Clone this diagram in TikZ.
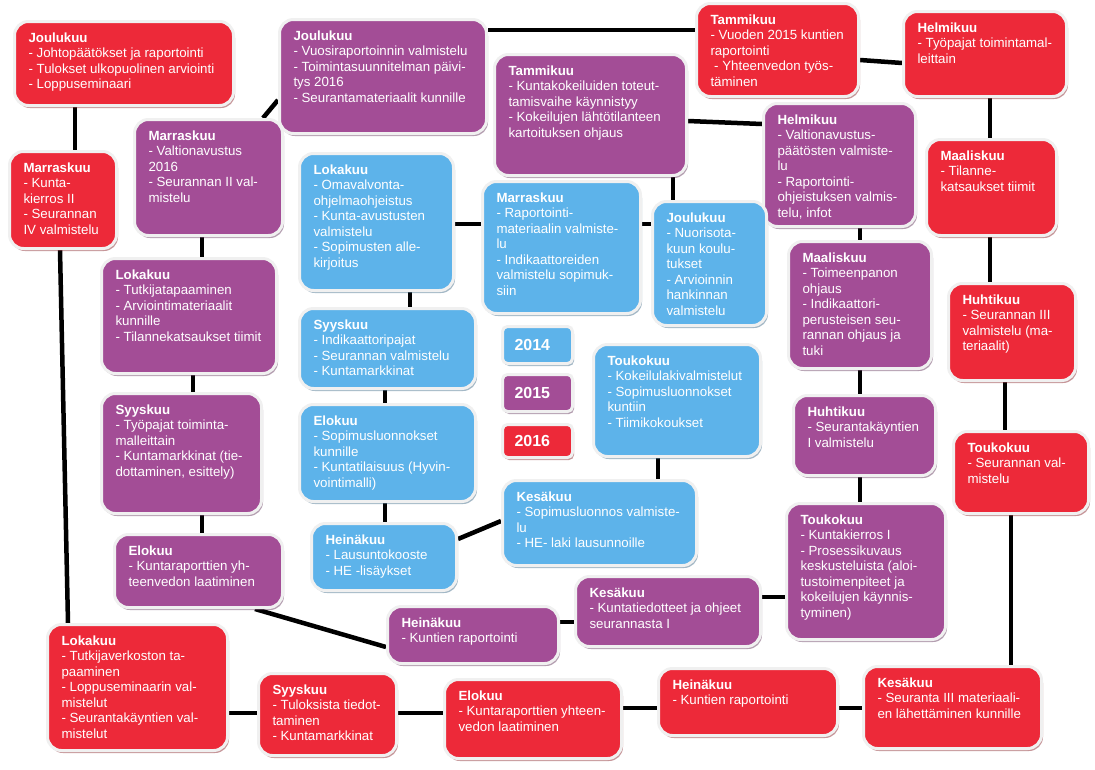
\documentclass[tikz,border=0pt]{standalone}
\usepackage{fontspec}
\setmainfont{Liberation Sans}
\usetikzlibrary{shadows,backgrounds}
\definecolor{cred}{RGB}{237,41,57}
\definecolor{cpurple}{RGB}{163,77,150}
\definecolor{cblue}{RGB}{93,179,234}
\definecolor{cedge}{RGB}{240,240,240}
% box text: outer width, outer height, lines
\newcommand{\mtxt}[3]{\parbox[t][\dimexpr#2pt-23pt\relax][t]{\dimexpr#1pt-31pt\relax}{\begin{tabular}[t]{@{}l@{}}#3\end{tabular}}}

\begin{document}
\begin{tikzpicture}[x=1pt,y=-1pt,
	mbox/.style={fill=#1, draw=cedge, line width=3pt, rounded corners=14pt, anchor=north west,
		inner xsep=14pt, inner ysep=10pt, text=white, font=\fontsize{13.3}{15.5}\selectfont,
		drop shadow={shadow xshift=1.5pt, shadow yshift=-2.5pt, fill=#1!55!black, opacity=0.45}},
	ybox/.style={mbox=#1, rounded corners=5pt, inner xsep=12pt, text width=46pt, align=left,
		minimum height=37pt, font=\bfseries\fontsize{16}{18}\selectfont},
	link/.style={line width=4.5pt}]
	\useasboundingbox (0,0) rectangle (1095,769);

	% 2016
	\node[mbox=cred] (rJou) at (13,20) {\mtxt{222}{87}{\textbf{Joulukuu}\\- Johtopäätökset ja raportointi\\- Tulokset ulkopuolinen arviointi\\- Loppuseminaari}};
	\node[mbox=cred] (rMar) at (8,150) {\mtxt{110}{100}{\textbf{Marraskuu}\\- Kunta-\\kierros II\\- Seurannan\\IV valmistelu}};
	\node[mbox=cred] (rLok) at (46,623) {\mtxt{183}{129}{\textbf{Lokakuu}\\- Tutkijaverkoston ta-\\paaminen\\- Loppuseminaarin val-\\mistelut\\- Seurantakäyntien val-\\mistelut}};
	\node[mbox=cred] (rSyy) at (257,672) {\mtxt{141}{85}{\textbf{Syyskuu}\\- Tuloksista tiedot-\\taminen\\- Kuntamarkkinat}};
	\node[mbox=cred] (rElo) at (443,678) {\mtxt{180}{82}{\textbf{Elokuu}\\- Kuntaraporttien yhteen-\\vedon laatiminen}};
	\node[mbox=cred] (rHei) at (657,667) {\mtxt{182}{70}{\textbf{Heinäkuu}\\- Kuntien raportointi}};
	\node[mbox=cred] (rKes) at (862,665) {\mtxt{181}{85}{\textbf{Kesäkuu}\\- Seuranta III materiaali-\\en lähettäminen kunnille}};
	\node[mbox=cred] (rTou) at (952,430) {\mtxt{138}{85}{\textbf{Toukokuu}\\- Seurannan val-\\mistelu}};
	\node[mbox=cred] (rHuh) at (947,282) {\mtxt{130}{100}{\textbf{Huhtikuu}\\- Seurannan III\\valmistelu (ma-\\teriaalit)}};
	\node[mbox=cred] (rMaa) at (925,138) {\mtxt{133}{99}{\textbf{Maaliskuu}\\- Tilanne-\\katsaukset tiimit}};
	\node[mbox=cred] (rHel) at (902,10) {\mtxt{166}{88}{\textbf{Helmikuu}\\- Työpajat toimintamal-\\leittain}};
	\node[mbox=cred] (rTam) at (695,2) {\mtxt{165}{96}{\textbf{Tammikuu}\\- Vuoden 2015 kuntien\\raportointi\\\ - Yhteenvedon työs-\\täminen}};

	% 2015
	\node[mbox=cpurple] (pJou) at (278,18) {\mtxt{210}{117}{\textbf{Joulukuu}\\- Vuosiraportoinnin valmistelu\\- Toimintasuunnitelman päivi-\\tys 2016\\- Seurantamateriaalit kunnille}};
	\node[mbox=cpurple] (pMar) at (133,118) {\mtxt{151}{119}{\textbf{Marraskuu}\\- Valtionavustus\\2016\\- Seurannan II val-\\mistelu}};
	\node[mbox=cpurple] (pLok) at (100,257) {\mtxt{178}{118}{\textbf{Lokakuu}\\- Tutkijatapaaminen\\- Arviointimateriaalit\\kunnille\\- Tilannekatsaukset tiimit}};
	\node[mbox=cpurple] (pSyy) at (100,392) {\mtxt{163}{123}{\textbf{Syyskuu}\\- Työpajat toiminta-\\malleittain\\- Kuntamarkkinat (tie-\\dottaminen, esittely)}};
	\node[mbox=cpurple] (pElo) at (113,533) {\mtxt{171}{76}{\textbf{Elokuu}\\- Kuntaraporttien yh-\\teenvedon laatiminen}};
	\node[mbox=cpurple] (pHei) at (386,605) {\mtxt{174}{60}{\textbf{Heinäkuu}\\- Kuntien raportointi}};
	\node[mbox=cpurple] (pKes) at (574,575) {\mtxt{188}{73}{\textbf{Kesäkuu}\\- Kuntatiedotteet ja ohjeet\\seurannasta I}};
	\node[mbox=cpurple] (pTou) at (785,502) {\mtxt{162}{139}{\textbf{Toukokuu}\\- Kuntakierros I\\- Prosessikuvaus\\keskusteluista (aloi-\\tustoimenpiteet ja\\kokeilujen käynnis-\\tyminen)}};
	\node[mbox=cpurple] (pHuh) at (792,394) {\mtxt{145}{83}{\textbf{Huhtikuu}\\- Seurantakäyntien\\I valmistelu}};
	\node[mbox=cpurple] (pMaa) at (787,240) {\mtxt{146}{130}{\textbf{Maaliskuu}\\- Toimeenpanon\\ohjaus\\- Indikaattori-\\perusteisen seu-\\rannan ohjaus ja\\tuki}};
	\node[mbox=cpurple] (pHel) at (762,102) {\mtxt{155}{126}{\textbf{Helmikuu}\\- Valtionavustus-\\päätösten valmiste-\\lu\\- Raportointi-\\ohjeistuksen valmis-\\telu, infot}};
	\node[mbox=cpurple] (pTam) at (493,53) {\mtxt{195}{124}{\textbf{Tammikuu}\\- Kuntakokeiluiden toteut-\\tamisvaihe käynnistyy\\- Kokeilujen lähtötilanteen\\kartoituksen ohjaus}};

	% 2014
	\node[mbox=cblue] (bLok) at (298,152) {\mtxt{157}{140}{\textbf{Lokakuu}\\- Omavalvonta-\\ohjelmaohjeistus\\- Kunta-avustusten\\valmistelu\\- Sopimusten alle-\\kirjoitus}};
	\node[mbox=cblue] (bMar) at (481,180) {\mtxt{161}{135}{\textbf{Marraskuu}\\- Raportointi-\\materiaalin valmiste-\\lu\\- Indikaattoreiden\\valmistelu sopimuk-\\siin}};
	\node[mbox=cblue] (bJou) at (651,200) {\mtxt{117}{127}{\textbf{Joulukuu}\\- Nuorisota-\\kuun koulu-\\tukset\\- Arvioinnin\\hankinnan\\valmistelu}};
	\node[mbox=cblue] (bSyy) at (298,307) {\mtxt{179}{83}{\textbf{Syyskuu}\\- Indikaattoripajat\\- Seurannan valmistelu\\- Kuntamarkkinat}};
	\node[mbox=cblue] (bElo) at (298,403) {\mtxt{179}{100}{\textbf{Elokuu}\\- Sopimusluonnokset\\kunnille\\- Kuntatilaisuus (Hyvin-\\vointimalli)}};
	\node[mbox=cblue] (bHei) at (310,522) {\mtxt{148}{70}{\textbf{Heinäkuu}\\- Lausuntokooste\\- HE -lisäykset}};
	\node[mbox=cblue] (bKes) at (501,479) {\mtxt{197}{88}{\textbf{Kesäkuu}\\- Sopimusluonnos valmiste-\\lu\\- HE- laki lausunnoille}};
	\node[mbox=cblue] (bTou) at (592,343) {\mtxt{170}{115}{\textbf{Toukokuu}\\- Kokeilulakivalmistelut\\- Sopimusluonnokset\\kuntiin\\- Tiimikokoukset}};

	% legend
	\node[ybox=cblue] (y14) at (501,325) {2014};
	\node[ybox=cpurple] (y15) at (501,373) {2015};
	\node[ybox=cred, minimum height=33pt] (y16) at (501,423) {2016};

	% connectors
	\begin{scope}[on background layer]
		\fill[white] (0,0) rectangle (1095,769);
		\draw[link] (rJou.south -| 75,0) -- (rMar.north -| 75,0);
		\draw[link] (rMar.south -| 60,0) -- (rLok.north -| 68,0);
		\draw[link] (rLok.east |- 0,713) -- (rSyy.west |- 0,713);
		\draw[link] (rSyy.east |- 0,713) -- (rElo.west |- 0,713);
		\draw[link] (rElo.east |- 0,708) -- (rHei.west |- 0,708);
		\draw[link] (rHei.east |- 0,708) -- (rKes.west |- 0,708);
		\draw[link] (rKes.north -| 1011,0) -- (rTou.south -| 1011,0);
		\draw[link] (rTou.north -| 1005,0) -- (rHuh.south -| 1005,0);
		\draw[link] (rHuh.north -| 990,0) -- (rMaa.south -| 990,0);
		\draw[link] (rMaa.north -| 990,0) -- (rHel.south -| 990,0);
		\draw[link] (rHel.west |- 0,63) -- (rTam.east |- 0,60);
		\draw[link] (rTam.west |- 0,30) -- (pJou.east |- 0,30);
		\draw[link] (pJou.west |- 0,100) -- (pMar.north -| 263,0);
		\draw[link] (pMar.south -| 202,0) -- (pLok.north -| 202,0);
		\draw[link] (pLok.south -| 193,0) -- (pSyy.north -| 193,0);
		\draw[link] (pSyy.south -| 202,0) -- (pElo.north -| 202,0);
		\draw[link] (pElo.south -| 255,0) -- (pHei.west |- 0,647);
		\draw[link] (pHei.east |- 0,622) -- (pKes.west |- 0,622);
		\draw[link] (pKes.east |- 0,597) -- (pTou.west |- 0,597);
		\draw[link] (pTou.north -| 860,0) -- (pHuh.south -| 860,0);
		\draw[link] (pHuh.north -| 860,0) -- (pMaa.south -| 860,0);
		\draw[link] (pMaa.north -| 860,0) -- (pHel.south -| 860,0);
		\draw[link] (pHel.west |- 0,124) -- (pTam.east |- 0,121);
		\draw[link] (pTam.south -| 673,0) -- (bJou.north -| 673,0);
		\draw[link] (bJou.west |- 0,224) -- (bMar.east |- 0,224);
		\draw[link] (bMar.west |- 0,224) -- (bLok.east |- 0,224);
		\draw[link] (bLok.south -| 410,0) -- (bSyy.north -| 410,0);
		\draw[link] (bSyy.south -| 385,0) -- (bElo.north -| 385,0);
		\draw[link] (bElo.south -| 385,0) -- (bHei.north -| 385,0);
		\draw[link] (bHei.east |- 0,539) -- (bKes.west |- 0,521);
		\draw[link] (bKes.north -| 658,0) -- (bTou.south -| 658,0);
	\end{scope}
\end{tikzpicture}
\end{document}
